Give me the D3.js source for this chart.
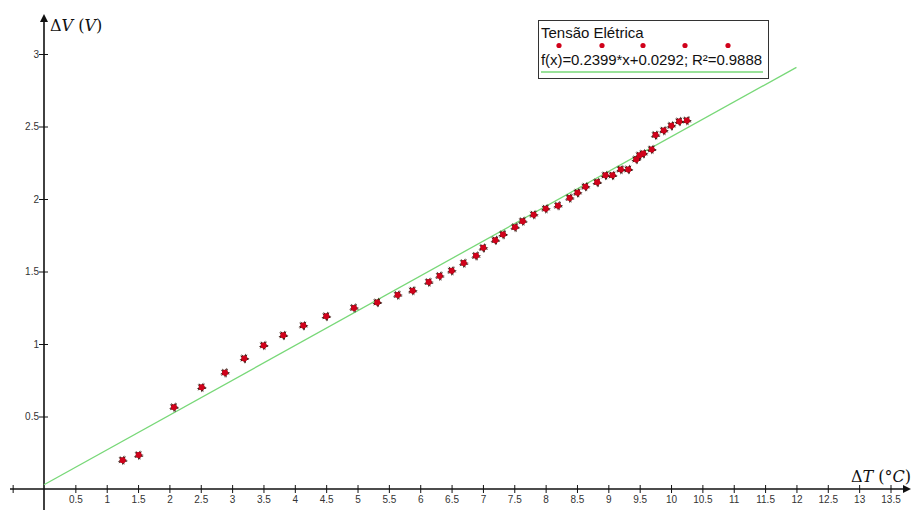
<!DOCTYPE html>
<html>
<head>
<meta charset="utf-8">
<script src="https://cdn.jsdelivr.net/npm/d3@7"></script>
<style>
  body { margin: 0; background: #fff; }
  svg { display: block; }
  .tick text { font-family: Arial, "Liberation Sans", sans-serif; font-size: 10px; fill: #333; }
</style>
</head>
<body>
<svg id="chart"></svg>
<script>
// measured points: temperature difference (°C) vs voltage (V)
const deltaT = [1.255, 1.51, 2.073, 2.515, 2.887, 3.195, 3.504, 3.817, 4.136, 4.502,
  4.944, 5.316, 5.641, 5.88, 6.136, 6.311, 6.502, 6.694, 6.89, 7.006,
  7.198, 7.321, 7.512, 7.635, 7.81, 8.002, 8.198, 8.384, 8.509, 8.636,
  8.823, 8.955, 9.067, 9.199, 9.319, 9.445, 9.498, 9.558, 9.692, 9.753,
  9.884, 10.005, 10.131, 10.252];
const deltaV = [0.199, 0.234, 0.564, 0.701, 0.802, 0.9, 0.99, 1.06, 1.127, 1.191,
  1.249, 1.287, 1.338, 1.368, 1.427, 1.469, 1.505, 1.558, 1.608, 1.663,
  1.716, 1.755, 1.805, 1.847, 1.892, 1.933, 1.954, 2.007, 2.043, 2.085,
  2.115, 2.163, 2.163, 2.203, 2.204, 2.273, 2.301, 2.313, 2.342, 2.441,
  2.472, 2.505, 2.535, 2.541];

const fitSlope = 0.2399;
const fitIntercept = 0.0292;
const fitRange = [0, 12];

const xTicks = [-0.5, 0.5, 1, 1.5, 2, 2.5, 3, 3.5, 4, 4.5, 5, 5.5, 6, 6.5, 7,
  7.5, 8, 8.5, 9, 9.5, 10, 10.5, 11, 11.5, 12, 12.5, 13, 13.5];
const yTicks = [0.5, 1, 1.5, 2, 2.5, 3];

const seriesName = "Tensão Elétrica";
const fitLabel = "f(x)=0.2399*x+0.0292; R²=0.9888";

const width = 912;
const height = 510;

const svg = d3.select('#chart')
  .attr('width', width)
  .attr('height', height);

const x = d3.scaleLinear().domain([0, 13.5]).range([44, 890.5]);
const y = d3.scaleLinear().domain([0, 3]).range([489, 54]);

// x axis
const xAxis = d3.axisBottom(x)
  .tickValues(xTicks)
  .tickFormat(d => d < 0 ? '' : d3.format('')(d))
  .tickSizeOuter(0);

const gx = svg.append('g')
  .attr('transform', `translate(0, ${y(0)})`)
  .call(xAxis);
gx.select('.domain').remove();
gx.selectAll('.tick line').attr('y1', -4).attr('y2', 4).attr('stroke', '#111');
gx.selectAll('.tick text').attr('y', 7);

svg.append('line')
  .attr('x1', 10).attr('x2', 905)
  .attr('y1', y(0)).attr('y2', y(0))
  .attr('stroke', '#111').attr('stroke-width', 1.6);
svg.append('path')
  .attr('d', `M911,${y(0)} L903,${y(0) - 4} L903,${y(0) + 4} Z`)
  .attr('fill', '#111');

// y axis
const yAxis = d3.axisLeft(y)
  .tickValues(yTicks)
  .tickFormat(d3.format(''))
  .tickSizeOuter(0);

const gy = svg.append('g')
  .attr('transform', `translate(${x(0)}, 0)`)
  .call(yAxis);
gy.select('.domain').remove();
gy.selectAll('.tick line').attr('x1', -5).attr('x2', 4).attr('stroke', '#111');
gy.selectAll('.tick text').attr('x', -5);

svg.append('line')
  .attr('x1', x(0)).attr('x2', x(0))
  .attr('y1', 20).attr('y2', height)
  .attr('stroke', '#111').attr('stroke-width', 1.6);
svg.append('path')
  .attr('d', `M${x(0)},14 L${x(0) - 4},22 L${x(0) + 4},22 Z`)
  .attr('fill', '#111');

// axis titles
const yTitle = svg.append('text')
  .attr('x', 50).attr('y', 31)
  .attr('font-family', '"DejaVu Serif", "Liberation Serif", serif')
  .attr('font-size', 16)
  .attr('fill', '#111');
yTitle.append('tspan').text('Δ');
yTitle.append('tspan').attr('font-style', 'italic').text('V');
yTitle.append('tspan').text(' (');
yTitle.append('tspan').attr('font-style', 'italic').text('V');
yTitle.append('tspan').text(')');

const xTitle = svg.append('text')
  .attr('x', 851).attr('y', 482)
  .attr('font-family', '"DejaVu Serif", "Liberation Serif", serif')
  .attr('font-size', 16)
  .attr('fill', '#111');
xTitle.append('tspan').text('Δ');
xTitle.append('tspan').attr('font-style', 'italic').text('T');
xTitle.append('tspan').text(' (°');
xTitle.append('tspan').attr('font-style', 'italic').text('C');
xTitle.append('tspan').text(')');

// fit line
const line = d3.line()
  .x(d => x(d))
  .y(d => y(fitSlope * d + fitIntercept));

svg.append('path')
  .datum(fitRange)
  .attr('d', line)
  .attr('fill', 'none')
  .attr('stroke', '#78d878')
  .attr('stroke-width', 1.3);

// points: red dot with a small dark jagged rim
const pts = deltaT.map((t, i) => ({ t: t, v: deltaV[i] }));
const star = d3.symbol().type(d3.symbolStar).size(30);

const gp = svg.append('g');
gp.selectAll('.star')
  .data(pts)
  .join('path')
  .attr('class', 'star')
  .attr('transform', d => `translate(${x(d.t)}, ${y(d.v)}) rotate(18)`)
  .attr('d', star)
  .attr('fill', '#3a1a12');
gp.selectAll('.star2')
  .data(pts)
  .join('path')
  .attr('class', 'star2')
  .attr('transform', d => `translate(${x(d.t)}, ${y(d.v)}) rotate(180)`)
  .attr('d', star)
  .attr('fill', '#3a1a12');
gp.selectAll('.dot')
  .data(pts)
  .join('circle')
  .attr('class', 'dot')
  .attr('cx', d => x(d.t))
  .attr('cy', d => y(d.v))
  .attr('r', 3)
  .attr('fill', '#d0021b');

// legend
const lg = svg.append('g').attr('transform', 'translate(538, 20)');
lg.append('rect')
  .attr('x', 0.5).attr('y', 0.5)
  .attr('width', 230).attr('height', 58)
  .attr('fill', '#fff')
  .attr('stroke', '#333');
lg.append('text')
  .attr('x', 3).attr('y', 18)
  .attr('font-family', 'Arial, "Liberation Sans", sans-serif')
  .attr('font-size', 15)
  .attr('fill', '#111')
  .text(seriesName);
lg.selectAll('.ldot')
  .data([21, 64, 105, 147, 190])
  .join('circle')
  .attr('class', 'ldot')
  .attr('cx', d => d)
  .attr('cy', 25.5)
  .attr('r', 2.6)
  .attr('fill', '#d0021b');
lg.append('text')
  .attr('x', 3).attr('y', 45)
  .attr('font-family', 'Arial, "Liberation Sans", sans-serif')
  .attr('font-size', 15)
  .attr('fill', '#111')
  .attr('textLength', 221)
  .text(fitLabel);
lg.append('line')
  .attr('x1', 3).attr('x2', 225)
  .attr('y1', 52).attr('y2', 52)
  .attr('stroke', '#78d878')
  .attr('stroke-width', 1.3);
</script>
</body>
</html>
